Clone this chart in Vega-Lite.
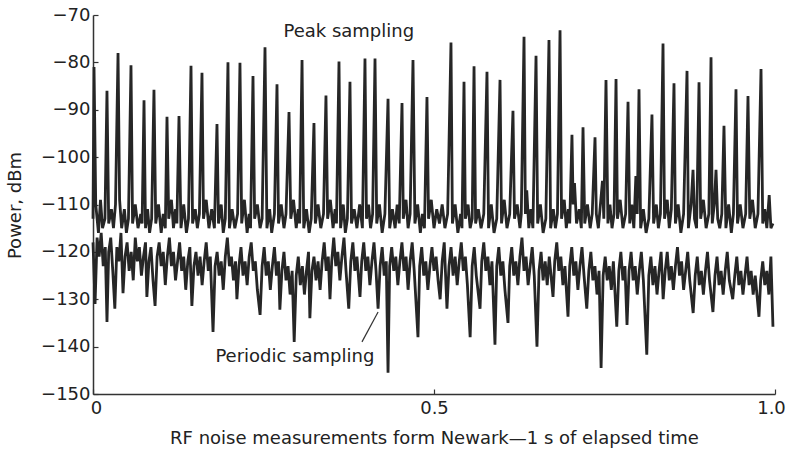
{
"$schema":"https://vega.github.io/schema/vega-lite/v6.json",
"width":682,"height":379,
"autosize":{"type":"none"},
"padding":{"left":93,"top":15,"right":13,"bottom":59},
"background":"white",
"config":{"view":{"stroke":null},"font":"DejaVu Sans"},
"datasets":{
"labels":[{"x":0.375,"y":-73.6,"t":"Peak sampling"},{"x":0.296,"y":-142.2,"t":"Periodic sampling"}],
"arrow":[{"x":0.3944,"y":-139,"x2":0.418,"y2":-132.7}],
"pts":[
{"s":"pk","x":0.000,"y":-113},{"s":"pk","x":0.0015,"y":-81},{"s":"pk","x":0.004,"y":-110},{"s":"pk","x":0.008,"y":-116},{"s":"pk","x":0.011,"y":-109},{"s":"pk","x":0.014,"y":-115},{"s":"pk","x":0.0175,"y":-113},
{"s":"pk","x":0.0205,"y":-86},{"s":"pk","x":0.023,"y":-114},{"s":"pk","x":0.027,"y":-111},{"s":"pk","x":0.030,"y":-115},{"s":"pk","x":0.033,"y":-110},
{"s":"pk","x":0.0367,"y":-78},{"s":"pk","x":0.039,"y":-109},{"s":"pk","x":0.042,"y":-115},{"s":"pk","x":0.046,"y":-111},{"s":"pk","x":0.049,"y":-116},{"s":"pk","x":0.052,"y":-113},
{"s":"pk","x":0.0557,"y":-80.6},{"s":"pk","x":0.058,"y":-114},{"s":"pk","x":0.062,"y":-110},{"s":"pk","x":0.066,"y":-115},{"s":"pk","x":0.070,"y":-112},{"s":"pk","x":0.072,"y":-114},
{"s":"pk","x":0.0748,"y":-88},{"s":"pk","x":0.077,"y":-115},{"s":"pk","x":0.080,"y":-111},{"s":"pk","x":0.083,"y":-116},{"s":"pk","x":0.086,"y":-113},
{"s":"pk","x":0.0894,"y":-85.8},{"s":"pk","x":0.092,"y":-114},{"s":"pk","x":0.096,"y":-110},{"s":"pk","x":0.100,"y":-116},{"s":"pk","x":0.103,"y":-112},{"s":"pk","x":0.106,"y":-115},
{"s":"pk","x":0.1085,"y":-91.5},{"s":"pk","x":0.111,"y":-113},{"s":"pk","x":0.115,"y":-109},{"s":"pk","x":0.118,"y":-115},{"s":"pk","x":0.121,"y":-111},{"s":"pk","x":0.123,"y":-114},
{"s":"pk","x":0.1261,"y":-91.3},{"s":"pk","x":0.129,"y":-115},{"s":"pk","x":0.133,"y":-110},{"s":"pk","x":0.137,"y":-116},{"s":"pk","x":0.140,"y":-113},
{"s":"pk","x":0.1437,"y":-80.7},{"s":"pk","x":0.146,"y":-114},{"s":"pk","x":0.150,"y":-111},{"s":"pk","x":0.153,"y":-115},{"s":"pk","x":0.156,"y":-112},
{"s":"pk","x":0.1598,"y":-82.2},{"s":"pk","x":0.162,"y":-113},{"s":"pk","x":0.166,"y":-109},{"s":"pk","x":0.170,"y":-115},{"s":"pk","x":0.174,"y":-111},{"s":"pk","x":0.178,"y":-115},
{"s":"pk","x":0.1818,"y":-93},{"s":"pk","x":0.184,"y":-114},{"s":"pk","x":0.188,"y":-110},{"s":"pk","x":0.191,"y":-116},{"s":"pk","x":0.194,"y":-113},
{"s":"pk","x":0.1979,"y":-80},{"s":"pk","x":0.200,"y":-115},{"s":"pk","x":0.204,"y":-111},{"s":"pk","x":0.208,"y":-115},{"s":"pk","x":0.212,"y":-112},
{"s":"pk","x":0.2155,"y":-80.1},{"s":"pk","x":0.218,"y":-114},{"s":"pk","x":0.222,"y":-109},{"s":"pk","x":0.226,"y":-116},{"s":"pk","x":0.229,"y":-112},{"s":"pk","x":0.231,"y":-115},
{"s":"pk","x":0.2346,"y":-82.9},{"s":"pk","x":0.237,"y":-113},{"s":"pk","x":0.241,"y":-110},{"s":"pk","x":0.245,"y":-115},{"s":"pk","x":0.248,"y":-113},
{"s":"pk","x":0.2522,"y":-76.8},{"s":"pk","x":0.255,"y":-115},{"s":"pk","x":0.259,"y":-111},{"s":"pk","x":0.262,"y":-116},{"s":"pk","x":0.266,"y":-112},
{"s":"pk","x":0.2698,"y":-84.6},{"s":"pk","x":0.272,"y":-114},{"s":"pk","x":0.276,"y":-110},{"s":"pk","x":0.280,"y":-115},{"s":"pk","x":0.283,"y":-112},
{"s":"pk","x":0.2874,"y":-90.5},{"s":"pk","x":0.290,"y":-113},{"s":"pk","x":0.294,"y":-109},{"s":"pk","x":0.298,"y":-115},{"s":"pk","x":0.301,"y":-111},{"s":"pk","x":0.303,"y":-114},
{"s":"pk","x":0.3065,"y":-79.5},{"s":"pk","x":0.309,"y":-115},{"s":"pk","x":0.313,"y":-111},{"s":"pk","x":0.317,"y":-116},{"s":"pk","x":0.320,"y":-113},
{"s":"pk","x":0.324,"y":-92.8},{"s":"pk","x":0.326,"y":-114},{"s":"pk","x":0.330,"y":-110},{"s":"pk","x":0.334,"y":-115},{"s":"pk","x":0.338,"y":-112},
{"s":"pk","x":0.3416,"y":-87},{"s":"pk","x":0.344,"y":-113},{"s":"pk","x":0.348,"y":-109},{"s":"pk","x":0.352,"y":-115},{"s":"pk","x":0.355,"y":-111},{"s":"pk","x":0.357,"y":-114},
{"s":"pk","x":0.3607,"y":-79.8},{"s":"pk","x":0.363,"y":-115},{"s":"pk","x":0.367,"y":-110},{"s":"pk","x":0.370,"y":-116},{"s":"pk","x":0.373,"y":-113},
{"s":"pk","x":0.3768,"y":-84.1},{"s":"pk","x":0.379,"y":-114},{"s":"pk","x":0.383,"y":-111},{"s":"pk","x":0.387,"y":-115},{"s":"pk","x":0.391,"y":-110},{"s":"pk","x":0.395,"y":-115},
{"s":"pk","x":0.3988,"y":-79.2},{"s":"pk","x":0.401,"y":-113},{"s":"pk","x":0.404,"y":-110},{"s":"pk","x":0.407,"y":-115},{"s":"pk","x":0.410,"y":-112},
{"s":"pk","x":0.4135,"y":-79.2},{"s":"pk","x":0.416,"y":-114},{"s":"pk","x":0.420,"y":-110},{"s":"pk","x":0.424,"y":-116},{"s":"pk","x":0.428,"y":-112},
{"s":"pk","x":0.4326,"y":-87.7},{"s":"pk","x":0.435,"y":-115},{"s":"pk","x":0.439,"y":-111},{"s":"pk","x":0.443,"y":-115},{"s":"pk","x":0.446,"y":-110},{"s":"pk","x":0.449,"y":-114},
{"s":"pk","x":0.4531,"y":-88.6},{"s":"pk","x":0.455,"y":-113},{"s":"pk","x":0.459,"y":-109},{"s":"pk","x":0.462,"y":-115},{"s":"pk","x":0.465,"y":-112},
{"s":"pk","x":0.4692,"y":-79.5},{"s":"pk","x":0.472,"y":-114},{"s":"pk","x":0.476,"y":-110},{"s":"pk","x":0.480,"y":-116},{"s":"pk","x":0.483,"y":-112},{"s":"pk","x":0.486,"y":-115},
{"s":"pk","x":0.4897,"y":-87.3},{"s":"pk","x":0.492,"y":-113},{"s":"pk","x":0.496,"y":-109},{"s":"pk","x":0.500,"y":-115},{"s":"pk","x":0.504,"y":-111},{"s":"pk","x":0.508,"y":-114},{"s":"pk","x":0.512,"y":-110},{"s":"pk","x":0.516,"y":-115},{"s":"pk","x":0.520,"y":-112},
{"s":"pk","x":0.5249,"y":-75.8},{"s":"pk","x":0.527,"y":-114},{"s":"pk","x":0.531,"y":-110},{"s":"pk","x":0.535,"y":-116},{"s":"pk","x":0.539,"y":-112},{"s":"pk","x":0.541,"y":-115},
{"s":"pk","x":0.544,"y":-84.1},{"s":"pk","x":0.546,"y":-113},{"s":"pk","x":0.550,"y":-110},{"s":"pk","x":0.553,"y":-115},{"s":"pk","x":0.556,"y":-113},
{"s":"pk","x":0.5587,"y":-80.8},{"s":"pk","x":0.561,"y":-114},{"s":"pk","x":0.565,"y":-111},{"s":"pk","x":0.569,"y":-115},{"s":"pk","x":0.573,"y":-112},
{"s":"pk","x":0.5777,"y":-82},{"s":"pk","x":0.580,"y":-115},{"s":"pk","x":0.584,"y":-110},{"s":"pk","x":0.588,"y":-116},{"s":"pk","x":0.592,"y":-113},
{"s":"pk","x":0.5968,"y":-83.7},{"s":"pk","x":0.599,"y":-114},{"s":"pk","x":0.603,"y":-109},{"s":"pk","x":0.607,"y":-115},{"s":"pk","x":0.611,"y":-112},
{"s":"pk","x":0.6158,"y":-90.2},{"s":"pk","x":0.618,"y":-113},{"s":"pk","x":0.622,"y":-110},{"s":"pk","x":0.626,"y":-115},{"s":"pk","x":0.628,"y":-112},
{"s":"pk","x":0.632,"y":-74.6},{"s":"pk","x":0.634,"y":-112},{"s":"pk","x":0.636,"y":-107},{"s":"pk","x":0.639,"y":-115},{"s":"pk","x":0.642,"y":-111},{"s":"pk","x":0.645,"y":-115},
{"s":"pk","x":0.6496,"y":-78.6},{"s":"pk","x":0.652,"y":-114},{"s":"pk","x":0.656,"y":-110},{"s":"pk","x":0.660,"y":-116},{"s":"pk","x":0.664,"y":-113},
{"s":"pk","x":0.6686,"y":-75.3},{"s":"pk","x":0.671,"y":-115},{"s":"pk","x":0.675,"y":-111},{"s":"pk","x":0.678,"y":-115},{"s":"pk","x":0.681,"y":-112},
{"s":"pk","x":0.6848,"y":-73.2},{"s":"pk","x":0.687,"y":-113},{"s":"pk","x":0.691,"y":-109},{"s":"pk","x":0.694,"y":-115},{"s":"pk","x":0.697,"y":-111},{"s":"pk","x":0.699,"y":-114},
{"s":"pk","x":0.7023,"y":-95.3},{"s":"pk","x":0.704,"y":-110},{"s":"pk","x":0.706,"y":-105.5},{"s":"pk","x":0.709,"y":-114},{"s":"pk","x":0.713,"y":-111},{"s":"pk","x":0.716,"y":-115},
{"s":"pk","x":0.7185,"y":-93.7},{"s":"pk","x":0.721,"y":-114},{"s":"pk","x":0.725,"y":-110},{"s":"pk","x":0.729,"y":-115},{"s":"pk","x":0.732,"y":-112},
{"s":"pk","x":0.7361,"y":-95.8},{"s":"pk","x":0.738,"y":-112},{"s":"pk","x":0.741,"y":-115},{"s":"pk","x":0.744,"y":-110},{"s":"pk","x":0.747,"y":-105},{"s":"pk","x":0.749,"y":-113},
{"s":"pk","x":0.7522,"y":-83.7},{"s":"pk","x":0.755,"y":-114},{"s":"pk","x":0.758,"y":-110},{"s":"pk","x":0.761,"y":-115},{"s":"pk","x":0.764,"y":-112},
{"s":"pk","x":0.7669,"y":-83.5},{"s":"pk","x":0.769,"y":-113},{"s":"pk","x":0.773,"y":-109},{"s":"pk","x":0.777,"y":-115},{"s":"pk","x":0.781,"y":-112},
{"s":"pk","x":0.7845,"y":-88.3},{"s":"pk","x":0.787,"y":-114},{"s":"pk","x":0.790,"y":-110},{"s":"pk","x":0.793,"y":-115},{"s":"pk","x":0.796,"y":-104},{"s":"pk","x":0.798,"y":-112},
{"s":"pk","x":0.8006,"y":-85.7},{"s":"pk","x":0.803,"y":-115},{"s":"pk","x":0.807,"y":-111},{"s":"pk","x":0.811,"y":-116},{"s":"pk","x":0.815,"y":-113},
{"s":"pk","x":0.8196,"y":-91},{"s":"pk","x":0.822,"y":-114},{"s":"pk","x":0.826,"y":-110},{"s":"pk","x":0.829,"y":-115},{"s":"pk","x":0.832,"y":-112},
{"s":"pk","x":0.8358,"y":-76},{"s":"pk","x":0.838,"y":-113},{"s":"pk","x":0.842,"y":-109},{"s":"pk","x":0.845,"y":-115},{"s":"pk","x":0.848,"y":-111},
{"s":"pk","x":0.8519,"y":-84.4},{"s":"pk","x":0.854,"y":-114},{"s":"pk","x":0.858,"y":-110},{"s":"pk","x":0.862,"y":-116},{"s":"pk","x":0.866,"y":-112},
{"s":"pk","x":0.871,"y":-81.8},{"s":"pk","x":0.873,"y":-115},{"s":"pk","x":0.877,"y":-110},{"s":"pk","x":0.8798,"y":-102.7},{"s":"pk","x":0.882,"y":-113},{"s":"pk","x":0.885,"y":-115},
{"s":"pk","x":0.8886,"y":-84.2},{"s":"pk","x":0.891,"y":-113},{"s":"pk","x":0.895,"y":-109},{"s":"pk","x":0.899,"y":-115},{"s":"pk","x":0.903,"y":-112},
{"s":"pk","x":0.9062,"y":-78.9},{"s":"pk","x":0.908,"y":-114},{"s":"pk","x":0.911,"y":-110},{"s":"pk","x":0.9135,"y":-102.7},{"s":"pk","x":0.916,"y":-113},{"s":"pk","x":0.919,"y":-115},{"s":"pk","x":0.922,"y":-112},
{"s":"pk","x":0.9252,"y":-93.4},{"s":"pk","x":0.928,"y":-115},{"s":"pk","x":0.932,"y":-110},{"s":"pk","x":0.936,"y":-116},{"s":"pk","x":0.939,"y":-112},
{"s":"pk","x":0.9428,"y":-85.7},{"s":"pk","x":0.945,"y":-114},{"s":"pk","x":0.949,"y":-110},{"s":"pk","x":0.953,"y":-115},{"s":"pk","x":0.957,"y":-112},
{"s":"pk","x":0.9604,"y":-87.1},{"s":"pk","x":0.963,"y":-113},{"s":"pk","x":0.967,"y":-109},{"s":"pk","x":0.971,"y":-115},{"s":"pk","x":0.975,"y":-112},
{"s":"pk","x":0.9795,"y":-81.4},{"s":"pk","x":0.982,"y":-114},{"s":"pk","x":0.985,"y":-111},{"s":"pk","x":0.988,"y":-115},{"s":"pk","x":0.9915,"y":-108},{"s":"pk","x":0.994,"y":-115},{"s":"pk","x":0.997,"y":-114},
{"s":"pd","x":0.000,"y":-118},{"s":"pd","x":0.003,"y":-131},{"s":"pd","x":0.006,"y":-117},{"s":"pd","x":0.009,"y":-121},{"s":"pd","x":0.012,"y":-116},{"s":"pd","x":0.015,"y":-123},{"s":"pd","x":0.018,"y":-119},{"s":"pd","x":0.0205,"y":-134.8},{"s":"pd","x":0.023,"y":-120},{"s":"pd","x":0.026,"y":-117},{"s":"pd","x":0.029,"y":-124},{"s":"pd","x":0.032,"y":-132},{"s":"pd","x":0.035,"y":-119},{"s":"pd","x":0.038,"y":-122},{"s":"pd","x":0.041,"y":-116},{"s":"pd","x":0.044,"y":-128.7},{"s":"pd","x":0.047,"y":-121},{"s":"pd","x":0.050,"y":-118},{"s":"pd","x":0.053,"y":-124},{"s":"pd","x":0.056,"y":-120},{"s":"pd","x":0.059,"y":-126},{"s":"pd","x":0.062,"y":-117},{"s":"pd","x":0.065,"y":-122},{"s":"pd","x":0.068,"y":-119},{"s":"pd","x":0.071,"y":-125},{"s":"pd","x":0.074,"y":-121},{"s":"pd","x":0.077,"y":-118},{"s":"pd","x":0.079,"y":-129.5},{"s":"pd","x":0.082,"y":-122},{"s":"pd","x":0.085,"y":-119},{"s":"pd","x":0.088,"y":-126},{"s":"pd","x":0.091,"y":-131.4},{"s":"pd","x":0.094,"y":-121},{"s":"pd","x":0.097,"y":-118},{"s":"pd","x":0.100,"y":-123},{"s":"pd","x":0.103,"y":-120},{"s":"pd","x":0.106,"y":-127},{"s":"pd","x":0.109,"y":-121},{"s":"pd","x":0.112,"y":-117},{"s":"pd","x":0.115,"y":-123},{"s":"pd","x":0.118,"y":-120},{"s":"pd","x":0.121,"y":-126},{"s":"pd","x":0.124,"y":-122},{"s":"pd","x":0.127,"y":-118},{"s":"pd","x":0.130,"y":-124},{"s":"pd","x":0.133,"y":-121},{"s":"pd","x":0.136,"y":-128},{"s":"pd","x":0.139,"y":-122},{"s":"pd","x":0.142,"y":-119},{"s":"pd","x":0.145,"y":-131.4},{"s":"pd","x":0.148,"y":-123},{"s":"pd","x":0.151,"y":-120},{"s":"pd","x":0.154,"y":-125},{"s":"pd","x":0.157,"y":-121},{"s":"pd","x":0.160,"y":-127},{"s":"pd","x":0.163,"y":-122},{"s":"pd","x":0.166,"y":-118},{"s":"pd","x":0.169,"y":-124},{"s":"pd","x":0.172,"y":-121},{"s":"pd","x":0.176,"y":-136.9},{"s":"pd","x":0.179,"y":-123},{"s":"pd","x":0.182,"y":-120},{"s":"pd","x":0.185,"y":-125},{"s":"pd","x":0.188,"y":-122},{"s":"pd","x":0.191,"y":-128},{"s":"pd","x":0.194,"y":-121},{"s":"pd","x":0.197,"y":-117},{"s":"pd","x":0.200,"y":-123},{"s":"pd","x":0.203,"y":-121},{"s":"pd","x":0.206,"y":-126},{"s":"pd","x":0.209,"y":-122},{"s":"pd","x":0.211,"y":-130},{"s":"pd","x":0.214,"y":-123},{"s":"pd","x":0.217,"y":-119},{"s":"pd","x":0.220,"y":-125},{"s":"pd","x":0.223,"y":-122},{"s":"pd","x":0.226,"y":-127},{"s":"pd","x":0.229,"y":-121},{"s":"pd","x":0.232,"y":-118},{"s":"pd","x":0.235,"y":-124},{"s":"pd","x":0.238,"y":-122},{"s":"pd","x":0.241,"y":-128},{"s":"pd","x":0.245,"y":-133.3},{"s":"pd","x":0.248,"y":-123},{"s":"pd","x":0.251,"y":-119},{"s":"pd","x":0.254,"y":-125},{"s":"pd","x":0.257,"y":-122},{"s":"pd","x":0.260,"y":-128},{"s":"pd","x":0.263,"y":-123},{"s":"pd","x":0.266,"y":-119},{"s":"pd","x":0.269,"y":-125},{"s":"pd","x":0.272,"y":-122},{"s":"pd","x":0.274,"y":-132.2},{"s":"pd","x":0.277,"y":-124},{"s":"pd","x":0.280,"y":-120},{"s":"pd","x":0.283,"y":-126},{"s":"pd","x":0.286,"y":-123},{"s":"pd","x":0.289,"y":-129},{"s":"pd","x":0.292,"y":-124},{"s":"pd","x":0.295,"y":-139},{"s":"pd","x":0.298,"y":-125},{"s":"pd","x":0.301,"y":-121},{"s":"pd","x":0.304,"y":-127},{"s":"pd","x":0.307,"y":-123},{"s":"pd","x":0.310,"y":-129},{"s":"pd","x":0.313,"y":-124},{"s":"pd","x":0.316,"y":-120},{"s":"pd","x":0.318,"y":-134},{"s":"pd","x":0.321,"y":-124},{"s":"pd","x":0.324,"y":-121},{"s":"pd","x":0.327,"y":-126},{"s":"pd","x":0.330,"y":-122},{"s":"pd","x":0.333,"y":-128},{"s":"pd","x":0.336,"y":-122},{"s":"pd","x":0.339,"y":-118},{"s":"pd","x":0.342,"y":-124},{"s":"pd","x":0.345,"y":-121},{"s":"pd","x":0.3475,"y":-130},{"s":"pd","x":0.350,"y":-122},{"s":"pd","x":0.353,"y":-117},{"s":"pd","x":0.356,"y":-123},{"s":"pd","x":0.359,"y":-120},{"s":"pd","x":0.362,"y":-126},{"s":"pd","x":0.365,"y":-121},{"s":"pd","x":0.368,"y":-117},{"s":"pd","x":0.371,"y":-124},{"s":"pd","x":0.375,"y":-132},{"s":"pd","x":0.378,"y":-122},{"s":"pd","x":0.381,"y":-118},{"s":"pd","x":0.384,"y":-124},{"s":"pd","x":0.387,"y":-121},{"s":"pd","x":0.3915,"y":-129.5},{"s":"pd","x":0.394,"y":-122},{"s":"pd","x":0.397,"y":-118},{"s":"pd","x":0.400,"y":-124},{"s":"pd","x":0.403,"y":-121},{"s":"pd","x":0.406,"y":-127},{"s":"pd","x":0.409,"y":-122},{"s":"pd","x":0.412,"y":-118},{"s":"pd","x":0.415,"y":-124},{"s":"pd","x":0.418,"y":-132},{"s":"pd","x":0.421,"y":-123},{"s":"pd","x":0.424,"y":-119},{"s":"pd","x":0.427,"y":-125},{"s":"pd","x":0.430,"y":-122},{"s":"pd","x":0.4326,"y":-145.5},{"s":"pd","x":0.435,"y":-123},{"s":"pd","x":0.438,"y":-119},{"s":"pd","x":0.441,"y":-124},{"s":"pd","x":0.444,"y":-121},{"s":"pd","x":0.447,"y":-127},{"s":"pd","x":0.450,"y":-122},{"s":"pd","x":0.453,"y":-118},{"s":"pd","x":0.456,"y":-124},{"s":"pd","x":0.459,"y":-121},{"s":"pd","x":0.462,"y":-128},{"s":"pd","x":0.465,"y":-122},{"s":"pd","x":0.468,"y":-118},{"s":"pd","x":0.471,"y":-124},{"s":"pd","x":0.4765,"y":-138},{"s":"pd","x":0.479,"y":-123},{"s":"pd","x":0.482,"y":-119},{"s":"pd","x":0.485,"y":-125},{"s":"pd","x":0.488,"y":-122},{"s":"pd","x":0.491,"y":-128},{"s":"pd","x":0.494,"y":-123},{"s":"pd","x":0.497,"y":-119},{"s":"pd","x":0.500,"y":-124},{"s":"pd","x":0.503,"y":-121},{"s":"pd","x":0.506,"y":-126},{"s":"pd","x":0.509,"y":-130},{"s":"pd","x":0.512,"y":-122},{"s":"pd","x":0.515,"y":-118},{"s":"pd","x":0.519,"y":-132},{"s":"pd","x":0.522,"y":-123},{"s":"pd","x":0.525,"y":-119},{"s":"pd","x":0.528,"y":-125},{"s":"pd","x":0.531,"y":-121},{"s":"pd","x":0.534,"y":-127},{"s":"pd","x":0.537,"y":-122},{"s":"pd","x":0.540,"y":-118},{"s":"pd","x":0.543,"y":-124},{"s":"pd","x":0.546,"y":-121},{"s":"pd","x":0.549,"y":-127},{"s":"pd","x":0.553,"y":-138},{"s":"pd","x":0.556,"y":-123},{"s":"pd","x":0.559,"y":-119},{"s":"pd","x":0.562,"y":-125},{"s":"pd","x":0.5675,"y":-132},{"s":"pd","x":0.570,"y":-122},{"s":"pd","x":0.573,"y":-118},{"s":"pd","x":0.576,"y":-124},{"s":"pd","x":0.579,"y":-121},{"s":"pd","x":0.582,"y":-127},{"s":"pd","x":0.585,"y":-122},{"s":"pd","x":0.5894,"y":-139.6},{"s":"pd","x":0.592,"y":-123},{"s":"pd","x":0.595,"y":-119},{"s":"pd","x":0.598,"y":-125},{"s":"pd","x":0.601,"y":-122},{"s":"pd","x":0.604,"y":-128},{"s":"pd","x":0.6085,"y":-135},{"s":"pd","x":0.611,"y":-123},{"s":"pd","x":0.614,"y":-119},{"s":"pd","x":0.617,"y":-125},{"s":"pd","x":0.620,"y":-122},{"s":"pd","x":0.623,"y":-127},{"s":"pd","x":0.626,"y":-121},{"s":"pd","x":0.629,"y":-117},{"s":"pd","x":0.632,"y":-124},{"s":"pd","x":0.635,"y":-121},{"s":"pd","x":0.638,"y":-127},{"s":"pd","x":0.641,"y":-123},{"s":"pd","x":0.644,"y":-119},{"s":"pd","x":0.647,"y":-125},{"s":"pd","x":0.651,"y":-140},{"s":"pd","x":0.654,"y":-124},{"s":"pd","x":0.657,"y":-120},{"s":"pd","x":0.660,"y":-126},{"s":"pd","x":0.663,"y":-122},{"s":"pd","x":0.666,"y":-127},{"s":"pd","x":0.669,"y":-121},{"s":"pd","x":0.6745,"y":-129.5},{"s":"pd","x":0.677,"y":-122},{"s":"pd","x":0.680,"y":-118},{"s":"pd","x":0.683,"y":-124},{"s":"pd","x":0.686,"y":-121},{"s":"pd","x":0.689,"y":-127},{"s":"pd","x":0.692,"y":-123},{"s":"pd","x":0.6965,"y":-133.7},{"s":"pd","x":0.699,"y":-123},{"s":"pd","x":0.702,"y":-119},{"s":"pd","x":0.705,"y":-125},{"s":"pd","x":0.708,"y":-122},{"s":"pd","x":0.711,"y":-128},{"s":"pd","x":0.714,"y":-123},{"s":"pd","x":0.717,"y":-119},{"s":"pd","x":0.720,"y":-125},{"s":"pd","x":0.724,"y":-132},{"s":"pd","x":0.727,"y":-124},{"s":"pd","x":0.730,"y":-120},{"s":"pd","x":0.733,"y":-126},{"s":"pd","x":0.736,"y":-123},{"s":"pd","x":0.739,"y":-129},{"s":"pd","x":0.742,"y":-124},{"s":"pd","x":0.745,"y":-144.5},{"s":"pd","x":0.748,"y":-125},{"s":"pd","x":0.751,"y":-121},{"s":"pd","x":0.754,"y":-126},{"s":"pd","x":0.757,"y":-123},{"s":"pd","x":0.760,"y":-128},{"s":"pd","x":0.763,"y":-122},{"s":"pd","x":0.768,"y":-135.8},{"s":"pd","x":0.771,"y":-124},{"s":"pd","x":0.774,"y":-120},{"s":"pd","x":0.777,"y":-126},{"s":"pd","x":0.780,"y":-123},{"s":"pd","x":0.783,"y":-135.4},{"s":"pd","x":0.786,"y":-124},{"s":"pd","x":0.789,"y":-120},{"s":"pd","x":0.792,"y":-126},{"s":"pd","x":0.795,"y":-123},{"s":"pd","x":0.798,"y":-129},{"s":"pd","x":0.801,"y":-124},{"s":"pd","x":0.804,"y":-120},{"s":"pd","x":0.807,"y":-126},{"s":"pd","x":0.812,"y":-141.7},{"s":"pd","x":0.815,"y":-125},{"s":"pd","x":0.818,"y":-121},{"s":"pd","x":0.821,"y":-127},{"s":"pd","x":0.824,"y":-123},{"s":"pd","x":0.827,"y":-129},{"s":"pd","x":0.830,"y":-124},{"s":"pd","x":0.833,"y":-120},{"s":"pd","x":0.836,"y":-130},{"s":"pd","x":0.839,"y":-124},{"s":"pd","x":0.842,"y":-120},{"s":"pd","x":0.845,"y":-126},{"s":"pd","x":0.848,"y":-123},{"s":"pd","x":0.851,"y":-128},{"s":"pd","x":0.854,"y":-123},{"s":"pd","x":0.857,"y":-119},{"s":"pd","x":0.860,"y":-125},{"s":"pd","x":0.863,"y":-122},{"s":"pd","x":0.866,"y":-128},{"s":"pd","x":0.869,"y":-124},{"s":"pd","x":0.872,"y":-120},{"s":"pd","x":0.875,"y":-126},{"s":"pd","x":0.880,"y":-132.9},{"s":"pd","x":0.883,"y":-125},{"s":"pd","x":0.886,"y":-121},{"s":"pd","x":0.889,"y":-127},{"s":"pd","x":0.892,"y":-124},{"s":"pd","x":0.895,"y":-129},{"s":"pd","x":0.898,"y":-124},{"s":"pd","x":0.901,"y":-120},{"s":"pd","x":0.904,"y":-126},{"s":"pd","x":0.909,"y":-132.7},{"s":"pd","x":0.912,"y":-125},{"s":"pd","x":0.915,"y":-121},{"s":"pd","x":0.918,"y":-127},{"s":"pd","x":0.921,"y":-124},{"s":"pd","x":0.924,"y":-129},{"s":"pd","x":0.927,"y":-124},{"s":"pd","x":0.930,"y":-120},{"s":"pd","x":0.933,"y":-126},{"s":"pd","x":0.938,"y":-130},{"s":"pd","x":0.941,"y":-125},{"s":"pd","x":0.944,"y":-121},{"s":"pd","x":0.947,"y":-127},{"s":"pd","x":0.950,"y":-124},{"s":"pd","x":0.953,"y":-129},{"s":"pd","x":0.956,"y":-125},{"s":"pd","x":0.959,"y":-121},{"s":"pd","x":0.962,"y":-127},{"s":"pd","x":0.965,"y":-124},{"s":"pd","x":0.968,"y":-129},{"s":"pd","x":0.971,"y":-125},{"s":"pd","x":0.9765,"y":-133.7},{"s":"pd","x":0.979,"y":-126},{"s":"pd","x":0.982,"y":-122},{"s":"pd","x":0.985,"y":-127},{"s":"pd","x":0.988,"y":-124},{"s":"pd","x":0.991,"y":-129},{"s":"pd","x":0.994,"y":-121},{"s":"pd","x":0.997,"y":-135.8}
]},
"encoding":{
"x":{"field":"x","type":"quantitative","scale":{"domain":[0,1],"nice":false,"zero":false},
"axis":{"values":[0,0.5,1],"labelExpr":"datum.value == 0 ? '0' : format(datum.value, '.1f')","labelFlush":false,"labelOffset":{"condition":[{"test":"datum.value == 1","value":-4},{"test":"datum.value == 0","value":3}],"value":0},"grid":false,"tickSize":-5,"labelPadding":10,"domainColor":"#333","domainWidth":1.5,"tickColor":"#333","tickWidth":1.2,"labelFontSize":18,"labelColor":"#222","labelFont":"DejaVu Sans","title":"RF noise measurements form Newark\u20141 s of elapsed time","titleFontSize":18,"titleFontWeight":"normal","titleColor":"#222","titleFont":"DejaVu Sans","titleX":341,"titleY":44,"titleBaseline":"middle","titleAnchor":"middle"}},
"y":{"field":"y","type":"quantitative","scale":{"domain":[-150,-70],"nice":false,"zero":false},
"axis":{"values":[-150,-140,-130,-120,-110,-100,-90,-80,-70],"format":"d","grid":false,"tickSize":-5,"labelPadding":8,"domainColor":"#333","domainWidth":1.5,"tickColor":"#333","tickWidth":1.2,"labelFontSize":18,"labelColor":"#222","labelFont":"DejaVu Sans","title":"Power, dBm","titleFontSize":18,"titleFontWeight":"normal","titleColor":"#222","titleFont":"DejaVu Sans","titleX":-78,"titleY":190,"titleAngle":-90,"titleBaseline":"middle","titleAlign":"center"}}
},
"layer":[
{"data":{"name":"pts"},"mark":{"type":"line","color":"#262626","strokeWidth":2.8,"strokeJoin":"miter","strokeMiterLimit":2},"encoding":{"detail":{"field":"s"}}},
{"data":{"name":"arrow"},"mark":{"type":"rule","color":"#333","strokeWidth":1.2},"encoding":{"x2":{"field":"x2"},"y2":{"field":"y2"}}},
{"data":{"name":"labels"},"mark":{"type":"text","fontSize":18,"font":"DejaVu Sans","color":"#222","align":"center","baseline":"middle"},"encoding":{"text":{"field":"t"}}}
]
}
